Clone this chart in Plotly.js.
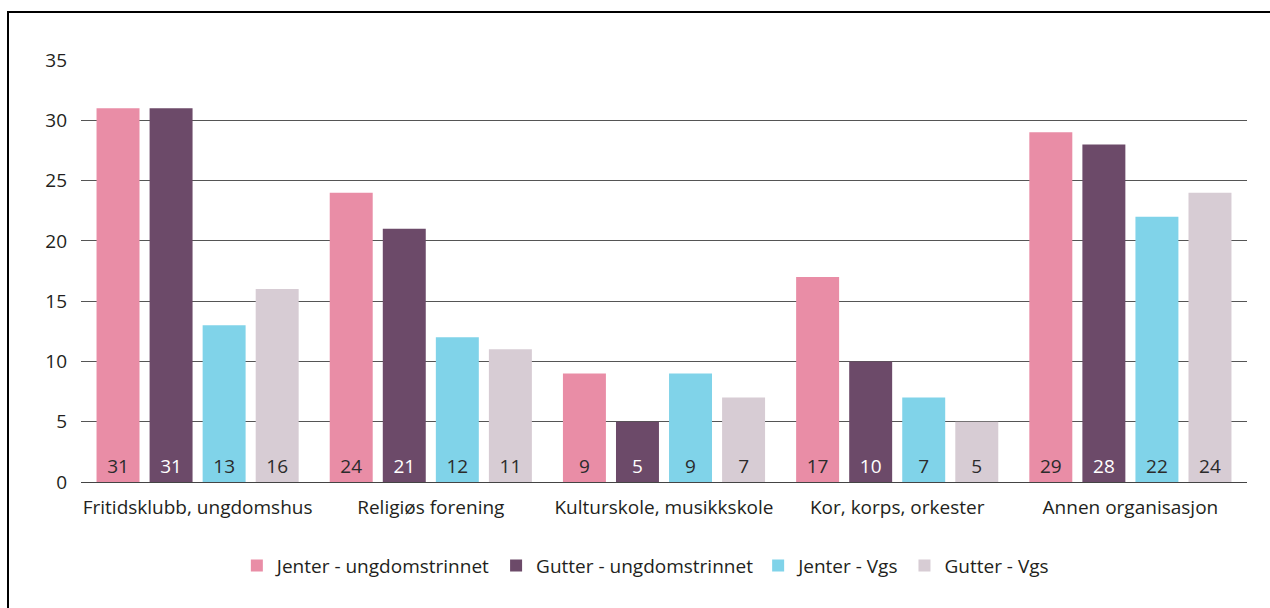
<!DOCTYPE html>
<html>
<head>
<meta charset="utf-8">
<script src="https://cdn.plot.ly/plotly-3.0.1.min.js"></script>
<style>
html,body{margin:0;padding:0;width:1270px;height:608px;overflow:hidden;background:#fff;}
#chart{position:absolute;left:0;top:0;width:1270px;height:608px;}
#frame{position:absolute;left:7px;top:11px;width:1400px;height:800px;border:2px solid #000;pointer-events:none;}
</style>
</head>
<body>
<div id="chart"></div>
<div id="frame"></div>
<script>
const categories = ["Fritidsklubb, ungdomshus", "Religiøs forening", "Kulturskole, musikkskole", "Kor, korps, orkester", "Annen organisasjon"];
const seriesNames = ["Jenter - ungdomstrinnet", "Gutter - ungdomstrinnet", "Jenter - Vgs", "Gutter - Vgs"];
const jenterUngdom = [31, 24, 9, 17, 29];
const gutterUngdom = [31, 21, 5, 10, 28];
const jenterVgs = [13, 12, 9, 7, 22];
const gutterVgs = [16, 11, 7, 5, 24];
const yTicks = [0, 5, 10, 15, 20, 25, 30, 35];

const colors = ["#E98DA6", "#6C4A69", "#80D3E9", "#D7CCD4"];
const textColors = ["#2b2b2b", "#ffffff", "#2b2b2b", "#2b2b2b"];
const allSeries = [jenterUngdom, gutterUngdom, jenterVgs, gutterVgs];
const fontFam = "'Open Sans', 'Noto Sans', sans-serif";

const data = allSeries.map((vals, i) => ({
  type: 'bar',
  name: seriesNames[i],
  x: categories,
  y: vals,
  text: vals.map(String),
  textposition: 'inside',
  insidetextanchor: 'start',
  textangle: 0,
  insidetextfont: {family: fontFam, size: 19, color: textColors[i]},
  marker: {color: colors[i]},
  hoverinfo: 'none'
}));

const layout = {
  width: 1270, height: 608,
  margin: {l: 81, r: 23, t: 60, b: 126},
  paper_bgcolor: '#fff', plot_bgcolor: '#fff',
  barmode: 'group',
  bargap: 0.09,
  bargroupgap: 0.19,
  font: {family: fontFam, size: 19, color: '#231f20'},
  xaxis: {
    type: 'category',
    showgrid: false, showline: false, zeroline: false,
    ticks: '',
    tickfont: {family: fontFam, size: 19, color: '#231f20'},
    ticklabelstandoff: 12
  },
  yaxis: {
    range: [0, 35],
    tickvals: yTicks,
    ticktext: yTicks.map(String),
    showgrid: true, gridcolor: '#555', gridwidth: 1,
    zeroline: true, zerolinecolor: '#444', zerolinewidth: 1,
    showline: false, ticks: '',
    tickfont: {family: fontFam, size: 19, color: '#231f20'},
    ticklabelstandoff: 13
  },
  showlegend: true,
  legend: {
    orientation: 'h',
    x: 0.484, xanchor: 'center',
    y: -0.198, yanchor: 'middle',
    font: {family: fontFam, size: 19, color: '#231f20'},
    itemwidth: 30,
    traceorder: 'normal'
  }
};

Plotly.newPlot('chart', data, layout, {displayModeBar: false, staticPlot: true});
</script>
</body>
</html>
